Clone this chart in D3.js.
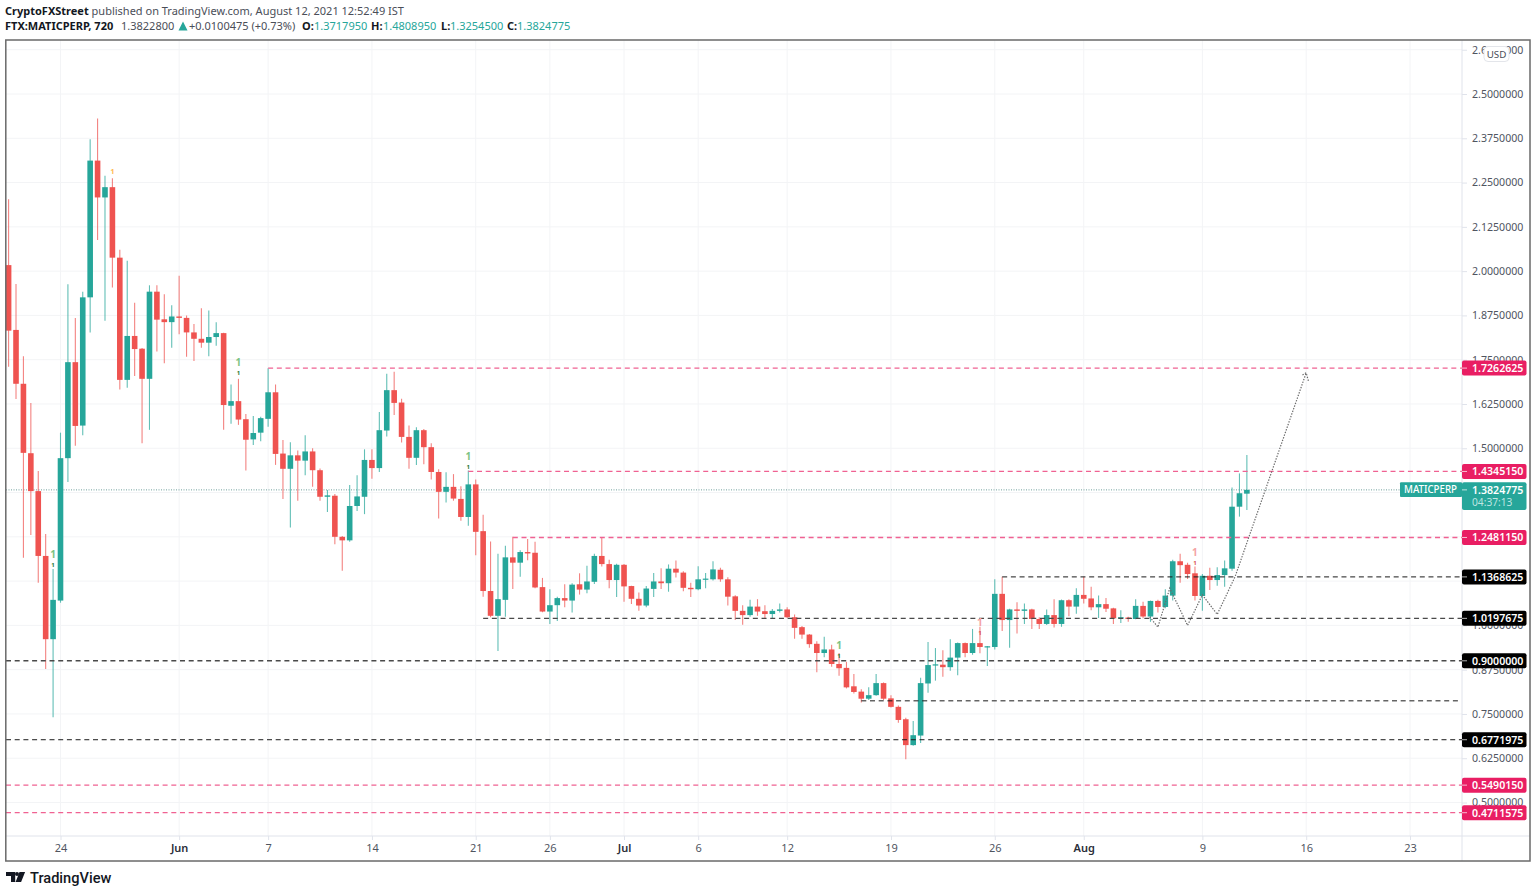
<!DOCTYPE html>
<html>
<head>
<meta charset="utf-8">
<title>MATICPERP</title>
<script src="https://cdn.jsdelivr.net/npm/d3@7"></script>
<style>
  html, body { margin: 0; padding: 0; background: #fff; overflow: hidden; }
  text { font-family: "Noto Sans", "Open Sans", sans-serif; }
</style>
</head>
<body>
<script>
//////////////////////////////////////////
// Data
// one bar every 12 hours, first bar is May 20 12:00
//////////////////////////////////////////
var opens = [2.017,1.834,1.682,1.486,1.379,1.196,0.961,1.070,1.472,1.743,1.564,1.926,2.312,2.208,2.237,2.038,1.693,1.817,1.781,1.696,
  1.942,1.864,1.856,1.872,1.868,1.827,1.809,1.798,1.814,1.825,1.620,1.633,1.582,1.525,1.544,1.583,1.658,1.485,1.442,1.480,
  1.465,1.491,1.438,1.363,1.366,1.250,1.240,1.337,1.363,1.467,1.444,1.550,1.664,1.629,1.532,1.473,1.551,1.503,1.433,1.377,
  1.391,1.357,1.306,1.398,1.266,1.097,1.027,1.072,1.192,1.177,1.207,1.205,1.108,1.039,1.057,1.077,1.070,1.116,1.101,1.123,
  1.196,1.173,1.128,1.171,1.111,1.075,1.056,1.103,1.124,1.119,1.160,1.149,1.106,1.102,1.130,1.130,1.157,1.130,1.082,1.041,
  1.029,1.053,1.040,1.032,1.041,1.045,1.023,0.995,0.974,0.948,0.922,0.932,0.891,0.880,0.828,0.813,0.793,0.803,0.837,0.794,
  0.770,0.735,0.662,0.689,0.836,0.887,0.889,0.882,0.909,0.950,0.922,0.950,0.939,0.939,1.089,1.015,1.045,1.041,1.045,1.018,
  1.004,1.029,1.004,1.071,1.053,1.086,1.076,1.051,1.060,1.048,1.020,1.022,1.018,1.055,1.025,1.069,1.052,1.084,1.181,1.171,
  1.147,1.083,1.140,1.128,1.142,1.160,1.335,1.371795];
var highs = [2.203,1.964,1.760,1.628,1.436,1.258,1.159,1.544,1.963,1.868,1.942,2.372,2.431,2.269,2.262,2.060,2.029,1.911,1.783,1.960,
  1.960,1.935,1.904,1.987,1.875,1.851,1.895,1.889,1.856,1.826,1.680,1.696,1.597,1.591,1.589,1.726,1.680,1.523,1.517,1.494,
  1.537,1.500,1.443,1.382,1.371,1.252,1.396,1.424,1.497,1.497,1.602,1.710,1.716,1.640,1.564,1.559,1.554,1.514,1.441,1.432,
  1.427,1.393,1.437,1.412,1.312,1.237,1.202,1.225,1.250,1.212,1.244,1.236,1.134,1.102,1.081,1.116,1.119,1.147,1.168,1.202,
  1.248,1.185,1.174,1.173,1.112,1.093,1.111,1.148,1.161,1.172,1.183,1.153,1.120,1.167,1.148,1.181,1.163,1.136,1.085,1.057,
  1.072,1.074,1.057,1.046,1.062,1.051,1.031,0.998,0.976,0.955,0.968,0.945,0.922,0.897,0.863,0.820,0.825,0.863,0.839,0.803,
  0.774,0.739,0.730,0.852,0.953,0.936,0.930,0.961,0.952,0.952,0.990,0.996,0.942,1.130,1.137,1.047,1.065,1.062,1.047,1.023,
  1.045,1.074,1.073,1.074,1.105,1.137,1.109,1.084,1.077,1.050,1.043,1.024,1.074,1.067,1.070,1.072,1.102,1.185,1.202,1.177,
  1.166,1.145,1.163,1.164,1.183,1.389,1.429,1.480895];
var lows = [1.730,1.639,1.191,1.255,1.120,0.877,0.741,1.064,1.405,1.507,1.537,1.827,2.088,1.860,1.954,1.666,1.671,1.704,1.514,1.552,
  1.773,1.740,1.784,1.822,1.758,1.746,1.784,1.760,1.789,1.552,1.569,1.566,1.437,1.509,1.520,1.561,1.453,1.357,1.276,1.352,
  1.424,1.391,1.352,1.320,1.229,1.154,1.236,1.323,1.314,1.414,1.433,1.533,1.594,1.516,1.442,1.453,1.455,1.412,1.302,1.347,
  1.352,1.295,1.281,1.198,1.081,1.023,0.928,1.024,1.103,1.137,1.184,1.105,1.037,1.004,1.012,1.051,1.036,1.087,1.091,1.117,
  1.166,1.105,1.080,1.067,1.060,1.041,1.051,1.080,1.103,1.095,1.135,1.096,1.080,1.099,1.105,1.127,1.123,1.056,1.015,1.002,
  1.024,1.027,1.018,1.018,1.036,1.021,0.962,0.962,0.937,0.868,0.910,0.883,0.858,0.822,0.808,0.782,0.789,0.801,0.789,0.768,
  0.725,0.622,0.660,0.668,0.810,0.844,0.855,0.872,0.859,0.910,0.917,0.921,0.885,0.932,0.984,0.937,0.977,1.004,0.990,0.990,
  1.001,0.994,0.996,1.026,1.033,1.062,1.043,1.021,1.038,1.004,1.007,1.010,1.017,1.020,1.010,1.036,1.048,1.070,1.120,1.131,
  1.070,1.041,1.100,1.112,1.109,1.154,1.307,1.32545];
var closes = [1.832,1.682,1.487,1.379,1.196,0.961,1.072,1.472,1.743,1.563,1.926,2.312,2.208,2.237,2.038,1.693,1.817,1.780,1.696,1.942,
  1.863,1.856,1.872,1.868,1.827,1.809,1.798,1.814,1.825,1.622,1.633,1.581,1.524,1.543,1.585,1.658,1.484,1.442,1.480,1.465,
  1.491,1.438,1.363,1.367,1.250,1.240,1.337,1.364,1.467,1.444,1.551,1.664,1.628,1.532,1.473,1.551,1.503,1.433,1.377,1.391,
  1.358,1.306,1.398,1.264,1.097,1.027,1.074,1.192,1.177,1.207,1.203,1.107,1.039,1.057,1.077,1.070,1.115,1.101,1.124,1.196,
  1.173,1.128,1.171,1.110,1.075,1.056,1.104,1.124,1.119,1.160,1.149,1.106,1.102,1.130,1.132,1.158,1.130,1.081,1.041,1.029,
  1.053,1.039,1.032,1.041,1.045,1.023,0.993,0.974,0.947,0.922,0.932,0.891,0.879,0.825,0.812,0.793,0.803,0.837,0.793,0.770,
  0.733,0.662,0.690,0.837,0.888,0.890,0.882,0.909,0.950,0.922,0.950,0.939,0.941,1.089,1.015,1.045,1.041,1.045,1.018,1.004,
  1.029,1.004,1.071,1.053,1.086,1.075,1.051,1.060,1.047,1.020,1.023,1.018,1.055,1.025,1.069,1.052,1.084,1.181,1.170,1.145,
  1.083,1.140,1.128,1.142,1.161,1.335,1.373,1.3824775];

var priceTicks = [2.625,2.5,2.375,2.25,2.125,2,1.875,1.75,1.625,1.5,1.375,1.25,1.125,1,0.875,0.75,0.625,0.5];
// these three sit fully behind the price labels, so they get a grid line but no text
var hiddenPriceTicks = [1.375,1.25,1.125];
var timeTickDates = ["2021-05-24","2021-06-01","2021-06-07","2021-06-14","2021-06-21","2021-06-26","2021-07-01","2021-07-06",
  "2021-07-12","2021-07-19","2021-07-26","2021-08-01","2021-08-09","2021-08-16","2021-08-23"];
var timeTickLabels = ["24","Jun","7","14","21","26","Jul","6","12","19","26","Aug","9","16","23"];

// horizontal levels, start bar -1 means from the left edge of the pane
var levelPrices = [1.7262625,1.434515,1.248115,1.1368625,1.0197675,0.9,0.787,0.6771975,0.549015,0.4711575];
var levelStartBars = [35,62,68,134,64,-1,115,-1,-1,-1];
var levelKinds = ["pink","pink","pink","black","grey","grey","black","black","pink","pink"];
var levelLabelled = [true,true,true,true,true,true,false,true,true,true];

// hand drawn projection: bar number and price of each vertex
var pathBars = [153.9,155,156.6,159,161,163,165.4,175];
var pathPrices = [1.024,0.995,1.105,1.000,1.086,1.031,1.137,1.713];
var arrowBars = [174.5,175,175.3];
var arrowPrices = [1.707,1.713,1.690];

// small sequential counters over the candles
var signalBars = [6,31,62,112,131,160];
var signalPrices = [1.199,1.741,1.476,0.942,1.007,1.205];
var signalKinds = ["up","up","up","up","down","down"];

var lastPrice = 1.3824775;

//////////////////////////////////////////
// Globals
//////////////////////////////////////////
var green = "#26a69a", red = "#ef5350", pink = "#e91e63";
var gridColor = "#f3f4f6", axisColor = "#e0e3eb", labelColor = "#50555f", ink = "#131722";
var paneLeft = 6, paneRight = 1462, paneTop = 40, paneBottom = 836, frameRight = 1530, frameBottom = 861;
var bodyWidth = 5.6;
var firstBarTime = Date.UTC(2021, 4, 20, 12);
var barMs = 12 * 3600 * 1000;
var fmt = d3.format(".7f");

var svg = d3.select("body").append("svg")
  .attr("width", 1536)
  .attr("height", 894)
  .style("display", "block");

var x = d3.scaleUtc()
  .domain([new Date(Date.UTC(2021, 4, 24)), new Date(Date.UTC(2021, 7, 23))])
  .range([60.5, 1410]);
var y = d3.scaleLinear().domain([0.5, 2.5]).range([802.5, 94]);

function barX(k) { return x(new Date(firstBarTime + k * barMs)); }

svg.append("clipPath").attr("id", "pane").append("rect")
  .attr("x", paneLeft).attr("y", paneTop)
  .attr("width", paneRight - paneLeft).attr("height", paneBottom - paneTop);

//////////////////////////////////////////
// Header
//////////////////////////////////////////
var head1 = svg.append("text").attr("x", 5).attr("y", 15).attr("font-size", 11).attr("fill", ink);
head1.append("tspan").attr("font-weight", 700).text("CryptoFXStreet");
head1.append("tspan").attr("fill", "#4a4e58").text(" published on TradingView.com, August 12, 2021 12:52:49 IST");

function headText(px, str, color, bold) {
  svg.append("text").attr("x", px).attr("y", 30).attr("font-size", 11)
    .attr("font-weight", bold ? 700 : 400).attr("fill", color).text(str);
}
headText(5, "FTX:MATICPERP, 720", ink, true);
headText(121, "1.3822800", "#4a4e58", false);
svg.append("path").attr("d", "M178.5 30.5h9l-4.5-9z").attr("fill", green);
headText(189, "+0.0100475 (+0.73%)", "#4a4e58", false);
headText(302, "O:", ink, true);
headText(314, "1.3717950", green, false);
headText(371, "H:", ink, true);
headText(383, "1.4808950", green, false);
headText(441, "L:", ink, true);
headText(450, "1.3254500", green, false);
headText(507, "C:", ink, true);
headText(517, "1.3824775", green, false);

//////////////////////////////////////////
// Grid
//////////////////////////////////////////
var timeDates = timeTickDates.map(function(d) { return new Date(d + "T00:00:00Z"); });

svg.append("g").selectAll("line").data(timeDates).enter().append("line")
  .attr("x1", function(d) { return x(d); }).attr("x2", function(d) { return x(d); })
  .attr("y1", paneTop).attr("y2", paneBottom)
  .attr("stroke", gridColor).attr("stroke-width", 1);

svg.append("g").selectAll("line").data(priceTicks).enter().append("line")
  .attr("x1", paneLeft).attr("x2", paneRight)
  .attr("y1", function(d) { return y(d); }).attr("y2", function(d) { return y(d); })
  .attr("stroke", gridColor).attr("stroke-width", 1);

//////////////////////////////////////////
// Axes
//////////////////////////////////////////
var priceAxis = svg.append("g")
  .attr("transform", "translate(" + paneRight + ",0)")
  .call(d3.axisRight(y).tickValues(priceTicks).tickSize(5).tickPadding(5)
    .tickFormat(function(d) { return hiddenPriceTicks.indexOf(d) >= 0 ? "" : fmt(d); }));
priceAxis.select(".domain").remove();
priceAxis.selectAll("line").attr("stroke", axisColor);
priceAxis.selectAll("text")
  .attr("font-size", 10.6)
  .attr("fill", labelColor)
  .style("font-family", '"Noto Sans", sans-serif');

var timeAxis = svg.append("g")
  .attr("transform", "translate(0," + paneBottom + ")")
  .call(d3.axisBottom(x).tickValues(timeDates).tickSize(4).tickPadding(4)
    .tickFormat(function(d, i) { return timeTickLabels[i]; }));
timeAxis.select(".domain").remove();
timeAxis.selectAll("line").attr("stroke", axisColor);
timeAxis.selectAll("text")
  .attr("font-size", 11)
  .attr("fill", function(d, i) { return /[A-Z]/.test(timeTickLabels[i]) ? "#2a2e39" : labelColor; })
  .attr("font-weight", function(d, i) { return /[A-Z]/.test(timeTickLabels[i]) ? 600 : 400; })
  .style("font-family", '"Noto Sans", sans-serif');

svg.append("line").attr("x1", paneLeft).attr("x2", frameRight)
  .attr("y1", paneBottom).attr("y2", paneBottom).attr("stroke", axisColor);
svg.append("line").attr("x1", paneRight).attr("x2", paneRight)
  .attr("y1", paneTop).attr("y2", frameBottom).attr("stroke", axisColor);

//////////////////////////////////////////
// Last price dotted line
//////////////////////////////////////////
var plot = svg.append("g").attr("clip-path", "url(#pane)");

plot.append("line")
  .attr("x1", paneLeft).attr("x2", paneRight)
  .attr("y1", y(lastPrice)).attr("y2", y(lastPrice))
  .attr("stroke", "#6f9f9c").attr("stroke-width", 1).attr("stroke-dasharray", "1 1.5");

//////////////////////////////////////////
// Candles
//////////////////////////////////////////
var bars = opens.map(function(o, i) {
  return { i: i, o: o, h: highs[i], l: lows[i], c: closes[i] };
});

var candle = plot.selectAll(".candle").data(bars).enter().append("g").attr("class", "candle");

candle.append("line")
  .attr("x1", function(d) { return barX(d.i); })
  .attr("x2", function(d) { return barX(d.i); })
  .attr("y1", function(d) { return y(d.h); })
  .attr("y2", function(d) { return y(d.l); })
  .attr("stroke", function(d) { return d.c >= d.o ? green : red; })
  .attr("stroke-width", 1.1)
  .attr("stroke-opacity", 0.72);

candle.append("rect")
  .attr("x", function(d) { return barX(d.i) - bodyWidth / 2; })
  .attr("width", bodyWidth)
  .attr("y", function(d) { return y(Math.max(d.o, d.c)); })
  .attr("height", function(d) { return Math.max(1.2, Math.abs(y(d.o) - y(d.c))); })
  .attr("fill", function(d) { return d.c >= d.o ? green : red; });

//////////////////////////////////////////
// Levels
//////////////////////////////////////////
var levelStyle = {
  pink: { color: "#f06292", width: 1.3 },
  grey: { color: "#4a4a4a", width: 1.4 },
  black: { color: "#1a1a1a", width: 1 }
};

levelPrices.forEach(function(p, i) {
  var st = levelStyle[levelKinds[i]];
  plot.append("line")
    .attr("x1", levelStartBars[i] < 0 ? paneLeft : barX(levelStartBars[i]))
    .attr("x2", levelLabelled[i] ? paneRight : 1459)
    .attr("y1", y(p)).attr("y2", y(p))
    .attr("stroke", st.color).attr("stroke-width", st.width)
    .attr("stroke-dasharray", "5 3.7");
});

//////////////////////////////////////////
// Projection drawing
//////////////////////////////////////////
var line = d3.line()
  .x(function(d) { return barX(d[0]); })
  .y(function(d) { return y(d[1]); });

plot.append("path")
  .attr("d", line(pathBars.map(function(b, i) { return [b, pathPrices[i]]; })))
  .attr("fill", "none").attr("stroke", "#6a6a6a").attr("stroke-width", 1.2)
  .attr("stroke-dasharray", "1.4 1.4");
plot.append("path")
  .attr("d", line(arrowBars.map(function(b, i) { return [b, arrowPrices[i]]; })))
  .attr("fill", "none").attr("stroke", "#6a6a6a").attr("stroke-width", 1.2)
  .attr("stroke-dasharray", "1.4 1.4");

//////////////////////////////////////////
// Counters
//////////////////////////////////////////
signalBars.forEach(function(b, i) {
  var up = signalKinds[i] == "up";
  plot.append("text").attr("x", barX(b)).attr("y", y(signalPrices[i]) + 3.5)
    .attr("text-anchor", "middle").attr("font-size", 10).attr("font-weight", 700)
    .attr("fill", up ? "#7dc383" : "#f4a3a3").text("1");
  plot.append("text").attr("x", barX(b)).attr("y", y(signalPrices[i]) + 12.5)
    .attr("text-anchor", "middle").attr("font-size", 6).attr("font-weight", 700)
    .attr("fill", up ? "#1f7a33" : "#d9534f").text("1");
});
plot.append("text").attr("x", barX(14)).attr("y", y(2.28) + 2.5)
  .attr("text-anchor", "middle").attr("font-size", 7).attr("font-weight", 700)
  .attr("fill", "#ffb74d").text("1");

//////////////////////////////////////////
// Price labels
//////////////////////////////////////////
var labelW = 64.5, labelH = 15;

levelPrices.forEach(function(p, i) {
  if (!levelLabelled[i]) return;
  var fill = levelKinds[i] == "pink" ? pink : "#000";
  var g = svg.append("g").attr("transform", "translate(" + paneRight + "," + y(p) + ")");
  g.append("rect").attr("y", -labelH / 2).attr("width", labelW).attr("height", labelH).attr("rx", 2).attr("fill", fill);
  g.append("line").attr("x2", 5).attr("stroke", "#fff").attr("stroke-opacity", 0.7);
  g.append("text").attr("x", 10).attr("y", 3.8).attr("font-size", 10.6).attr("font-weight", 600)
    .attr("fill", "#fff").text(fmt(p));
});

var ly = y(lastPrice);
svg.append("rect").attr("x", 1400).attr("y", ly - 7.6).attr("width", 62).attr("height", 14.6).attr("rx", 1).attr("fill", green);
svg.append("text").attr("x", 1404).attr("y", ly + 3.6).attr("font-size", 10).attr("font-weight", 500)
  .attr("fill", "#fff").attr("textLength", 53).attr("lengthAdjust", "spacingAndGlyphs").text("MATICPERP");
svg.append("rect").attr("x", paneRight).attr("y", ly - 7.6).attr("width", labelW).attr("height", 27.8).attr("rx", 2).attr("fill", green);
svg.append("line").attr("x1", paneRight).attr("x2", paneRight + 5).attr("y1", ly).attr("y2", ly).attr("stroke", "#fff").attr("stroke-opacity", 0.7);
svg.append("text").attr("x", paneRight + 10).attr("y", ly + 3.8).attr("font-size", 10.6).attr("font-weight", 600)
  .attr("fill", "#fff").text(fmt(lastPrice));
svg.append("text").attr("x", paneRight + 10).attr("y", ly + 16.5).attr("font-size", 10.2)
  .attr("fill", "#bfe5e1").text("04:37:13");

//////////////////////////////////////////
// Frame, USD button, logo
//////////////////////////////////////////
svg.append("rect").attr("x", 5.8).attr("y", 40).attr("width", frameRight - 5.8).attr("height", frameBottom - 40)
  .attr("fill", "none").attr("stroke", "#6a6a6a").attr("stroke-width", 1.5);

svg.append("rect").attr("x", 1484).attr("y", 46.5).attr("width", 25).attr("height", 15).attr("rx", 4)
  .attr("fill", "#fff").attr("stroke", "#e3e5ea");
svg.append("text").attr("x", 1496.5).attr("y", 57.5).attr("text-anchor", "middle").attr("font-size", 9.8)
  .attr("fill", "#4a4e58").text("USD");

svg.append("path").attr("fill", "#131722")
  .attr("d", "M6 872h9.2v10h-4.2v-6H6z M19.5 872h5.6l-4 10h-5.5z");
svg.append("circle").attr("cx", 17).attr("cy", 874).attr("r", 2).attr("fill", "#131722");
svg.append("text").attr("x", 30).attr("y", 882.5).attr("font-size", 14.6).attr("font-weight", 500)
  .attr("fill", "#131722").style("font-family", "Roboto, sans-serif").text("TradingView");
</script>
</body>
</html>
